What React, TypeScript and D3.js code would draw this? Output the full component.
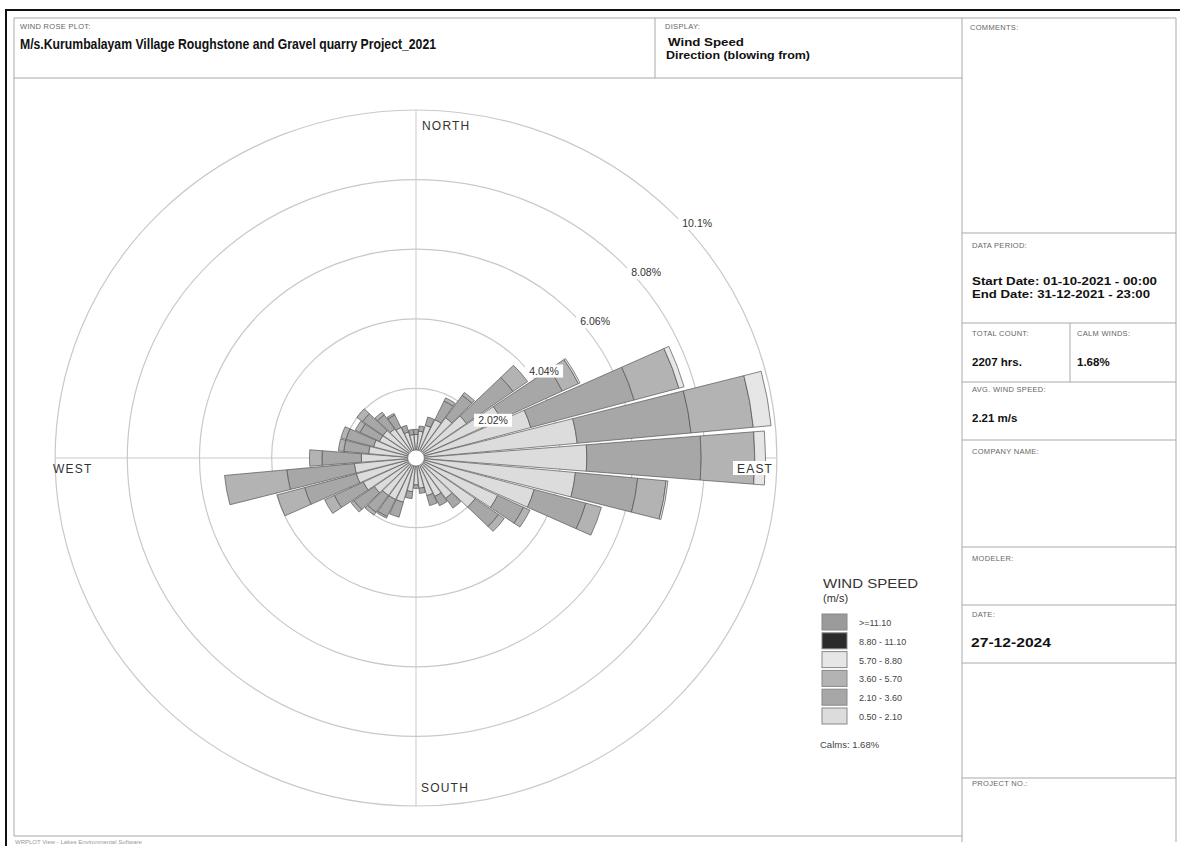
import React from 'react';
import * as d3 from 'd3';

// Wind directions (degrees, blowing from), 36 sectors
const directions = [0, 10, 20, 30, 40, 50, 60, 70, 80, 90, 100, 110, 120, 130, 140, 150, 160, 170,
  180, 190, 200, 210, 220, 230, 240, 250, 260, 270, 280, 290, 300, 310, 320, 330, 340, 350];

// Frequency (%) per speed class for each direction
const speed05to21 = [0.45, 0.55, 0.75, 1.0, 1.2, 1.5, 2.4, 3.1, 4.3, 4.55, 4.25, 3.2, 2.3, 1.8, 1.2, 1.0, 0.9, 0.65,
  0.55, 0.75, 1.1, 1.1, 1.1, 1.2, 1.4, 1.5, 1.5, 1.3, 1.1, 1.0, 0.9, 0.9, 0.8, 0.75, 0.55, 0.45];
const speed21to36 = [0.15, 0.15, 0.25, 0.6, 0.8, 1.6, 1.9, 3.0, 3.2, 3.2, 1.75, 1.5, 0.8, 0.8, 0.35, 0.3, 0.3, 0.15,
  0.1, 0.2, 0.45, 0.55, 0.6, 0.7, 0.9, 1.5, 1.9, 1.1, 0.7, 0.8, 0.6, 0.7, 0.5, 0.4, 0.2, 0.15];
const speed36to57 = [0, 0, 0, 0.1, 0.1, 0.5, 0.5, 1.3, 1.75, 1.5, 0.8, 0.45, 0.2, 0.2, 0, 0, 0, 0,
  0, 0, 0, 0.05, 0.1, 0.1, 0.3, 0.8, 1.75, 0.35, 0.15, 0.15, 0.15, 0.2, 0.1, 0.05, 0, 0];
const speed57to88 = [0, 0, 0, 0, 0, 0, 0.05, 0.15, 0.5, 0.3, 0.05, 0, 0, 0, 0, 0, 0, 0,
  0, 0, 0, 0, 0, 0, 0, 0, 0, 0, 0, 0, 0, 0, 0, 0, 0, 0];
const speed88to111 = [0, 0, 0, 0, 0, 0, 0, 0, 0, 0, 0, 0, 0, 0, 0, 0, 0, 0,
  0, 0, 0, 0, 0, 0, 0, 0, 0, 0, 0, 0, 0, 0, 0, 0, 0, 0];
const speedAbove111 = [0, 0, 0, 0, 0, 0, 0, 0, 0, 0, 0, 0, 0, 0, 0, 0, 0, 0,
  0, 0, 0, 0, 0, 0, 0, 0, 0, 0, 0, 0, 0, 0, 0, 0, 0, 0];

const speedSeries = [speed05to21, speed21to36, speed36to57, speed57to88, speed88to111, speedAbove111];
const speedClassLabels = ['0.50 - 2.10', '2.10 - 3.60', '3.60 - 5.70', '5.70 - 8.80', '8.80 - 11.10', '>=11.10'];
const speedColors = ['#dcdcdc', '#a7a7a7', '#b3b3b3', '#e6e6e6', '#2b2b2b', '#9b9b9b'];

const ringValues = [2.02, 4.04, 6.06, 8.08, 10.1];
const ringLabels = ['2.02%', '4.04%', '6.06%', '8.08%', '10.1%'];
const compassLabels = ['NORTH', 'EAST', 'SOUTH', 'WEST'];
const calmPercent = 1.68;

const W = 1180;
const H = 846;
const cx = 416;
const cy = 458;
const sx = 1.037; // horizontal stretch of the rose
const maxR = 348;
const calmR = 8;
const FONT = '"Liberation Sans", Arial, sans-serif';

export default function App() {
  const r = d3.scaleLinear().domain([0, 10.1]).range([0, maxR]);
  const angle = d3.scaleLinear().domain([0, 360]).range([0, 2 * Math.PI]);
  const halfW = angle(4.6);
  const arc = d3.arc();

  const segments: { d: string; fill: string; key: string }[] = [];
  directions.forEach((dir, i) => {
    let cum = 0;
    speedSeries.forEach((series, j) => {
      const v = series[i];
      if (v <= 0) return;
      const inner = calmR + r(cum);
      cum += v;
      const outer = calmR + r(cum);
      const d = arc({
        innerRadius: inner,
        outerRadius: outer,
        startAngle: angle(dir) - halfW,
        endAngle: angle(dir) + halfW,
      } as any) as string;
      segments.push({ d, fill: speedColors[j], key: `${dir}-${j}` });
    });
  });

  const c45 = Math.cos(Math.PI / 4);

  const smallLabel = (x: number, y: number, t: string) => (
    <text x={x} y={y} fontSize={7.5} fill="#666" fontFamily={FONT} letterSpacing={0.3}>{t}</text>
  );

  const legendTop = 614;
  const legendStep = 18.8;
  const legendOrder = [5, 4, 3, 2, 1, 0];

  return (
    <svg width={W} height={H} style={{ position: 'absolute', left: 0, top: 0, background: '#fff' }}
      fontFamily={FONT}>
      <rect x={0} y={0} width={W} height={H} fill="#fff" />
      {/* outer frame */}
      <line x1={5} y1={10} x2={W} y2={10} stroke="#111" strokeWidth={2} />
      <line x1={6} y1={10} x2={6} y2={H} stroke="#111" strokeWidth={2} />

      {/* panel lines */}
      <g stroke="#a9a9a9" strokeWidth={1} fill="none">
        <line x1={14} y1={18} x2={1176} y2={18} />
        <line x1={14} y1={18} x2={14} y2={836} />
        <line x1={1176} y1={18} x2={1176} y2={842} />
        <line x1={655} y1={18} x2={655} y2={78} />
        <line x1={14} y1={78} x2={962} y2={78} />
        <line x1={962} y1={18} x2={962} y2={842} />
        <line x1={14} y1={836} x2={962} y2={836} />
        {[233, 323, 382, 440, 547, 605, 663, 778].map((y) => (
          <line key={y} x1={962} y1={y} x2={1176} y2={y} />
        ))}
        <line x1={1070} y1={323} x2={1070} y2={382} />
      </g>

      {/* header */}
      {smallLabel(20, 29, 'WIND ROSE PLOT:')}
      <text x={20} y={49} fontSize={14} fontWeight="bold" fill="#111" textLength={416}
        lengthAdjust="spacingAndGlyphs">M/s.Kurumbalayam Village Roughstone and Gravel quarry Project_2021</text>
      {smallLabel(665, 29, 'DISPLAY:')}
      <text x={668} y={46} fontSize={11.5} fontWeight="bold" fill="#111" textLength={76}
        lengthAdjust="spacingAndGlyphs">Wind Speed</text>
      <text x={666} y={59} fontSize={11.5} fontWeight="bold" fill="#111" textLength={144}
        lengthAdjust="spacingAndGlyphs">Direction (blowing from)</text>

      {/* right panel */}
      {smallLabel(970, 30, 'COMMENTS:')}
      {smallLabel(972, 248, 'DATA PERIOD:')}
      <text x={972} y={285} fontSize={11.5} fontWeight="bold" fill="#111" textLength={185}
        lengthAdjust="spacingAndGlyphs">Start Date: 01-10-2021 - 00:00</text>
      <text x={972} y={298} fontSize={11.5} fontWeight="bold" fill="#111" textLength={178}
        lengthAdjust="spacingAndGlyphs">End Date: 31-12-2021 - 23:00</text>
      {smallLabel(972, 336, 'TOTAL COUNT:')}
      {smallLabel(1077, 336, 'CALM WINDS:')}
      <text x={972} y={366} fontSize={11.5} fontWeight="bold" fill="#111">2207 hrs.</text>
      <text x={1077} y={366} fontSize={11.5} fontWeight="bold" fill="#111">{`${calmPercent.toFixed(2)}%`}</text>
      {smallLabel(972, 392, 'AVG. WIND SPEED:')}
      <text x={972} y={422} fontSize={11.5} fontWeight="bold" fill="#111">2.21 m/s</text>
      {smallLabel(972, 454, 'COMPANY NAME:')}
      {smallLabel(972, 561, 'MODELER:')}
      {smallLabel(972, 617, 'DATE:')}
      <text x={971} y={647} fontSize={13} fontWeight="bold" fill="#111" textLength={80}
        lengthAdjust="spacingAndGlyphs">27-12-2024</text>
      {smallLabel(972, 786, 'PROJECT NO.:')}

      {/* footer */}
      <text x={15} y={844} fontSize={6} fill="#999">WRPLOT View - Lakes Environmental Software</text>

      {/* rose */}
      <g transform={`translate(${cx},${cy}) scale(${sx},1)`}>
        {ringValues.map((v) => (
          <circle key={v} r={r(v)} fill="none" stroke="#c9c9c9" strokeWidth={1.2}
            vectorEffect="non-scaling-stroke" />
        ))}
        <line x1={-maxR} y1={0} x2={maxR} y2={0} stroke="#c9c9c9" strokeWidth={1} vectorEffect="non-scaling-stroke" />
        <line x1={0} y1={-maxR} x2={0} y2={maxR} stroke="#c9c9c9" strokeWidth={1} vectorEffect="non-scaling-stroke" />
        {segments.map((s) => (
          <path key={s.key} d={s.d} fill={s.fill} stroke="#555" strokeWidth={0.7}
            vectorEffect="non-scaling-stroke" strokeLinejoin="round" />
        ))}
        <circle r={calmR} fill="#fff" stroke="#777" strokeWidth={0.7} vectorEffect="non-scaling-stroke" />
      </g>

      {/* ring labels */}
      {ringValues.map((v, i) => {
        const px = cx + sx * r(v) * c45 + 26;
        const py = cy - r(v) * c45 + 15;
        return (
          <g key={v}>
            <rect x={px - 19} y={py - 10} width={38} height={13} fill="#fff" />
            <text x={px} y={py} fontSize={10.5} fill="#333" textAnchor="middle">{ringLabels[i]}</text>
          </g>
        );
      })}

      {/* compass labels */}
      <text x={422} y={130} fontSize={12} fill="#333" letterSpacing={1.2}>{compassLabels[0]}</text>
      <rect x={733} y={461} width={42} height={14} fill="#fff" />
      <text x={737} y={473} fontSize={12} fill="#333" letterSpacing={1.2}>{compassLabels[1]}</text>
      <text x={421} y={792} fontSize={12} fill="#333" letterSpacing={1.2}>{compassLabels[2]}</text>
      <text x={53} y={473} fontSize={12} fill="#333" letterSpacing={1.2}>{compassLabels[3]}</text>

      {/* legend */}
      <text x={823} y={588} fontSize={12} fill="#333" textLength={95} lengthAdjust="spacingAndGlyphs">WIND SPEED</text>
      <text x={823} y={602} fontSize={11} fill="#333">(m/s)</text>
      {legendOrder.map((j, k) => (
        <g key={j}>
          <rect x={822} y={legendTop + k * legendStep} width={25} height={16} fill={speedColors[j]}
            stroke="#888" strokeWidth={1} />
          <text x={859} y={legendTop + k * legendStep + 12} fontSize={9} fill="#444">{speedClassLabels[j]}</text>
        </g>
      ))}
      <text x={820} y={748} fontSize={9.5} fill="#444">{`Calms: ${calmPercent.toFixed(2)}%`}</text>
    </svg>
  );
}
